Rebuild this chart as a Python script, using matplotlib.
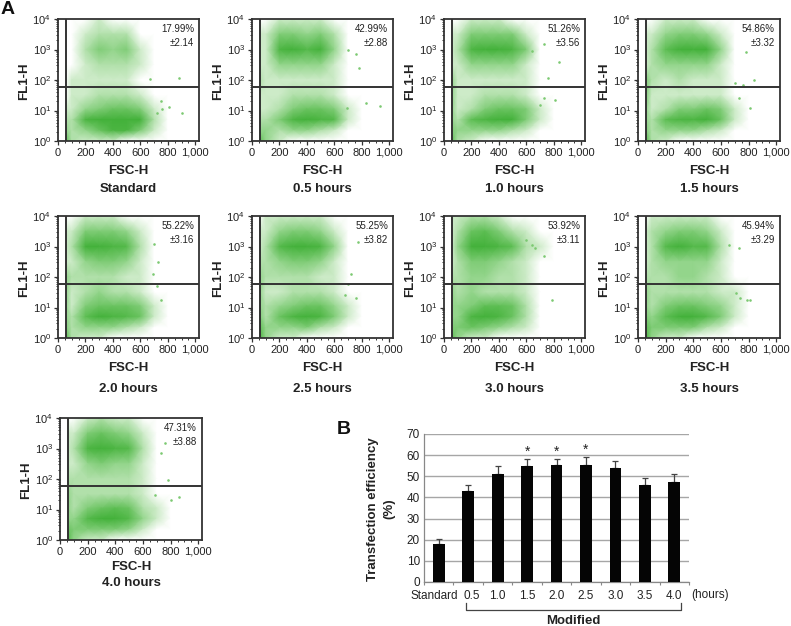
import matplotlib
matplotlib.use("Agg")
import matplotlib.pyplot as plt
import numpy as np
from matplotlib.colors import LinearSegmentedColormap
from matplotlib.ticker import MultipleLocator, FuncFormatter, LogLocator, NullFormatter
from matplotlib.transforms import ScaledTranslation

plt.rcParams['font.family'] = ['Liberation Sans', 'DejaVu Sans']
plt.rcParams['mathtext.default'] = 'regular'

W, H = 791, 626
fig = plt.figure(figsize=(W/100, H/100), dpi=100)

# ---- data ----
panel_names = ['Standard', '0.5 hours', '1.0 hours', '1.5 hours', '2.0 hours',
               '2.5 hours', '3.0 hours', '3.5 hours', '4.0 hours']
efficiency = [17.99, 42.99, 51.26, 54.86, 55.22, 55.25, 53.92, 45.94, 47.31]
errors = [2.14, 2.88, 3.56, 3.32, 3.16, 3.82, 3.11, 3.29, 3.88]
bar_labels = ['Standard', '0.5', '1.0', '1.5', '2.0', '2.5', '3.0', '3.5', '4.0']
starred = ['1.5', '2.0', '2.5']

# Event density, on a 0-9 scale.
fsc_nodes = [56, 100, 200, 300, 400, 500, 600, 700, 800, 900, 1000]
fl1_nodes = [10000, 3162, 1000, 316, 100, 32, 11, 5, 2.2, 1]

density_standard = [
    [0, 0, 0, 1, 0, 0, 0, 0, 0, 0, 0],
    [0, 0, 1, 2, 2, 2, 0, 0, 0, 0, 0],
    [0, 0, 2, 4, 3, 4, 1, 0, 0, 0, 0],
    [0, 0, 1, 2, 2, 2, 1, 0, 0, 0, 0],
    [0, 1, 1, 1, 1, 1, 0, 0, 0, 0, 0],
    [0, 1, 1, 2, 2, 2, 1, 0, 0, 0, 0],
    [1, 1, 3, 4, 5, 5, 4, 1, 0, 0, 0],
    [2, 2, 8, 9, 9, 9, 9, 2, 0, 0, 0],
    [3, 2, 3, 5, 8, 8, 4, 1, 0, 0, 0],
    [6, 2, 1, 1, 1, 0, 0, 0, 0, 0, 0]]
density_05 = [
    [0, 0, 1, 1, 1, 1, 0, 0, 0, 0, 0],
    [1, 1, 4, 4, 3, 4, 2, 0, 0, 0, 0],
    [1, 1, 8, 9, 7, 9, 3, 0, 0, 0, 0],
    [1, 1, 3, 3, 3, 3, 1, 0, 0, 0, 0],
    [2, 1, 1, 1, 1, 1, 1, 0, 0, 0, 0],
    [1, 1, 1, 2, 2, 2, 1, 0, 0, 0, 0],
    [1, 1, 2, 4, 5, 5, 4, 1, 0, 0, 0],
    [2, 2, 4, 8, 9, 8, 7, 1, 0, 0, 0],
    [3, 3, 2, 3, 3, 2, 1, 0, 0, 0, 0],
    [6, 3, 1, 0, 0, 0, 0, 0, 0, 0, 0]]
density_10 = [
    [0, 0, 1, 1, 1, 0, 0, 0, 0, 0, 0],
    [1, 1, 4, 4, 4, 4, 1, 0, 0, 0, 0],
    [1, 2, 8, 9, 9, 8, 4, 0, 0, 0, 0],
    [1, 1, 3, 3, 3, 3, 1, 0, 0, 0, 0],
    [3, 1, 1, 1, 1, 1, 1, 0, 0, 0, 0],
    [3, 1, 1, 2, 2, 2, 1, 0, 0, 0, 0],
    [3, 1, 2, 4, 5, 5, 4, 1, 0, 0, 0],
    [3, 2, 6, 8, 9, 9, 4, 1, 0, 0, 0],
    [4, 3, 3, 3, 3, 2, 1, 0, 0, 0, 0],
    [6, 2, 1, 0, 0, 0, 0, 0, 0, 0, 0]]
density_15 = [
    [0, 0, 1, 1, 1, 0, 0, 0, 0, 0, 0],
    [1, 1, 3, 4, 4, 3, 1, 0, 0, 0, 0],
    [1, 2, 6, 9, 9, 9, 3, 0, 0, 0, 0],
    [1, 2, 3, 3, 3, 3, 1, 0, 0, 0, 0],
    [4, 2, 1, 2, 1, 1, 1, 0, 0, 0, 0],
    [4, 1, 1, 1, 1, 1, 1, 0, 0, 0, 0],
    [3, 1, 2, 4, 4, 5, 4, 1, 0, 0, 0],
    [3, 2, 6, 8, 8, 9, 5, 1, 0, 0, 0],
    [4, 2, 3, 3, 3, 2, 1, 0, 0, 0, 0],
    [7, 2, 1, 0, 0, 0, 0, 0, 0, 0, 0]]
density_20 = [
    [0, 0, 1, 1, 1, 0, 0, 0, 0, 0, 0],
    [1, 1, 4, 4, 4, 3, 1, 0, 0, 0, 0],
    [1, 2, 9, 9, 8, 7, 2, 0, 0, 0, 0],
    [1, 1, 3, 4, 4, 3, 1, 0, 0, 0, 0],
    [3, 2, 2, 2, 2, 1, 1, 0, 0, 0, 0],
    [3, 1, 2, 3, 2, 2, 1, 0, 0, 0, 0],
    [3, 1, 4, 5, 5, 5, 4, 1, 0, 0, 0],
    [3, 2, 6, 9, 8, 7, 5, 1, 0, 0, 0],
    [4, 2, 3, 3, 3, 2, 1, 0, 0, 0, 0],
    [7, 2, 1, 1, 0, 0, 0, 0, 0, 0, 0]]
density_25 = [
    [0, 1, 1, 1, 1, 1, 0, 0, 0, 0, 0],
    [1, 1, 3, 4, 4, 3, 1, 0, 0, 0, 0],
    [1, 2, 7, 9, 9, 8, 3, 0, 0, 0, 0],
    [2, 2, 3, 4, 4, 3, 1, 0, 0, 0, 0],
    [3, 2, 2, 2, 2, 1, 1, 0, 0, 0, 0],
    [3, 1, 1, 2, 2, 2, 1, 0, 0, 0, 0],
    [3, 2, 3, 4, 5, 5, 3, 1, 0, 0, 0],
    [4, 2, 5, 8, 9, 8, 4, 1, 0, 0, 0],
    [6, 3, 3, 3, 4, 2, 1, 0, 0, 0, 0],
    [8, 3, 1, 1, 0, 0, 0, 0, 0, 0, 0]]
density_30 = [
    [1, 1, 2, 2, 1, 0, 0, 0, 0, 0, 0],
    [1, 2, 5, 6, 4, 2, 1, 0, 0, 0, 0],
    [1, 3, 9, 9, 8, 6, 2, 1, 0, 0, 0],
    [1, 2, 4, 4, 3, 2, 1, 0, 0, 0, 0],
    [2, 2, 3, 3, 2, 2, 1, 0, 0, 0, 0],
    [3, 2, 3, 2, 2, 2, 1, 0, 0, 0, 0],
    [3, 3, 4, 6, 6, 5, 2, 0, 0, 0, 0],
    [3, 3, 8, 9, 8, 5, 2, 0, 0, 0, 0],
    [4, 4, 5, 4, 3, 2, 1, 0, 0, 0, 0],
    [6, 3, 1, 1, 0, 0, 0, 0, 0, 0, 0]]
density_35 = [
    [0, 1, 1, 1, 1, 1, 0, 0, 0, 0, 0],
    [1, 2, 3, 4, 4, 3, 1, 0, 0, 0, 0],
    [1, 2, 7, 9, 7, 7, 2, 0, 0, 0, 0],
    [1, 2, 3, 3, 3, 3, 1, 0, 0, 0, 0],
    [2, 2, 2, 3, 3, 2, 1, 0, 0, 0, 0],
    [3, 2, 2, 2, 2, 2, 1, 1, 0, 0, 0],
    [3, 2, 4, 5, 5, 4, 3, 1, 0, 0, 0],
    [4, 3, 6, 9, 9, 7, 4, 1, 0, 0, 0],
    [6, 4, 4, 4, 4, 2, 1, 0, 0, 0, 0],
    [8, 3, 1, 1, 0, 0, 0, 0, 0, 0, 0]]
density_40 = [
    [0, 0, 1, 2, 1, 1, 0, 0, 0, 0, 0],
    [1, 1, 4, 5, 4, 3, 1, 0, 0, 0, 0],
    [1, 2, 8, 9, 8, 7, 2, 0, 0, 0, 0],
    [1, 1, 3, 4, 3, 3, 1, 0, 0, 0, 0],
    [2, 2, 2, 2, 2, 2, 1, 0, 0, 0, 0],
    [3, 2, 2, 2, 2, 2, 1, 0, 0, 0, 0],
    [3, 2, 4, 5, 6, 5, 2, 1, 0, 0, 0],
    [3, 3, 7, 9, 9, 7, 3, 1, 0, 0, 0],
    [5, 4, 4, 4, 4, 3, 1, 0, 0, 0, 0],
    [7, 3, 1, 1, 0, 0, 0, 0, 0, 0, 0]]
densities = [density_standard, density_05, density_10, density_15, density_20,
             density_25, density_30, density_35, density_40]

# Isolated events (FSC-H, FL1-H).
stray_fsc = [
    [670, 880, 810, 750, 900, 720, 760],
    [700, 780, 830, 930, 690, 760],
    [730, 840, 760, 730, 810, 700, 640],
    [700, 760, 810, 780, 730, 840],
    [700, 730, 750, 690, 720],
    [770, 720, 700, 760, 680],
    [640, 660, 730, 790, 600],
    [660, 710, 740, 790, 810, 730],
    [760, 690, 730, 800, 860, 780],
]
stray_fl1 = [
    [110, 120, 13, 20, 8, 8, 11],
    [1000, 250, 18, 14, 12, 700],
    [1500, 400, 120, 25, 22, 15, 900],
    [80, 70, 12, 800, 25, 100],
    [1200, 300, 18, 130, 50],
    [1400, 130, 60, 20, 25],
    [1100, 900, 500, 18, 1600],
    [1100, 30, 20, 18, 18, 900],
    [1500, 30, 700, 20, 25, 90],
]
percent_labels = ['17.99%\n±2.14', '42.99%\n±2.88', '51.26%\n±3.56', '54.86%\n±3.32',
                  '55.22%\n±3.16', '55.25%\n±3.82', '53.92%\n±3.11', '45.94%\n±3.29',
                  '47.31%\n±3.88']

# ---- layout, in reference pixels ----
boxes = [(58, 199, 19, 141), (252, 393, 19, 141), (444, 585, 19, 141), (638, 780, 19, 141),
         (58, 199, 216, 338), (252, 393, 216, 338), (444, 585, 216, 338), (638, 780, 216, 338),
         (60, 202, 418, 540)]
xlabel_y = [171]*4 + [368]*4 + [567]
name_y = [189]*4 + [389]*4 + [583]

DARK = '#333333'
TXT = '#222222'
green = LinearSegmentedColormap.from_list(
    'flow', [(0, '#ffffff'), (0.11, '#cdebc8'), (0.33, '#94d58c'), (0.6, '#62c058'), (1, '#43b13a')])


def add_axes(l, r, t, b):
    return fig.add_axes([l/W, 1-b/H, (r-l)/W, (b-t)/H])


def ftext(x, y, s, **kw):
    kw.setdefault('ha', 'center')
    kw.setdefault('va', 'center')
    kw.setdefault('color', TXT)
    fig.text(x/W, 1-y/H, s, **kw)


X, Y = np.meshgrid(fsc_nodes, fl1_nodes)
for i, (l, r, t, b) in enumerate(boxes):
    ax = add_axes(l, r, t, b)
    ax.set_yscale('log')
    ax.pcolormesh(X, Y, np.array(densities[i], float), shading='gouraud',
                  cmap=green, vmin=0, vmax=9, rasterized=True, zorder=1)
    ax.scatter(stray_fsc[i], stray_fl1[i], s=3.5, color='#7cc972', linewidths=0, zorder=2)
    ax.axvline(56, color=DARK, lw=1.4, zorder=3)
    ax.axhline(60, color=DARK, lw=1.4, zorder=3)
    ax.set_xlim(0, 1027)
    ax.set_ylim(1, 10000)
    ax.xaxis.set_major_locator(MultipleLocator(200))
    ax.xaxis.set_minor_locator(MultipleLocator(50))
    ax.xaxis.set_major_formatter(FuncFormatter(lambda v, p: f'{int(v):,}'))
    ax.yaxis.set_major_locator(LogLocator(base=10, numticks=6))
    ax.yaxis.set_minor_locator(LogLocator(base=10, subs=np.arange(2, 10), numticks=6))
    ax.yaxis.set_minor_formatter(NullFormatter())
    ax.tick_params(axis='both', which='major', length=3, width=0.9, color=DARK,
                   labelsize=8, labelcolor=TXT, pad=2)
    ax.tick_params(axis='both', which='minor', length=1.6, width=0.7, color=DARK)
    for s in ax.spines.values():
        s.set_color(DARK)
        s.set_linewidth(1.3)
    ax.text(0.965, 0.955, percent_labels[i], transform=ax.transAxes, ha='right', va='top',
            fontsize=7, color=TXT, linespacing=1.4, zorder=4)
    ftext((l+r)/2, xlabel_y[i], 'FSC-H', fontsize=9.5, fontweight='bold')
    ftext((l+r)/2, name_y[i], panel_names[i], fontsize=9.5, fontweight='bold')
    ftext(l-34, (t+b)/2+1, 'FL1-H', fontsize=9.5, fontweight='bold', rotation=90)

ftext(8, 9, 'A', fontsize=14, fontweight='bold', color='#111111')
ftext(344, 429, 'B', fontsize=14, fontweight='bold', color='#111111')

# ---- bar chart ----
bx = add_axes(424, 689, 434, 582)
pos = np.arange(len(bar_labels))
bx.yaxis.grid(True, color='#a6a6a6', lw=1.0, zorder=0)
bx.set_axisbelow(True)
bx.bar(pos, efficiency, width=0.4, color='#050505', zorder=3)
bx.errorbar(pos, efficiency, yerr=[np.zeros(len(errors)), errors], fmt='none',
            ecolor='#444444', elinewidth=0.9, capsize=2, capthick=0.9, zorder=2)
for name in starred:
    k = bar_labels.index(name)
    bx.annotate('*', (k, efficiency[k]+errors[k]), xytext=(0, 0), textcoords='offset points',
                ha='center', va='bottom', fontsize=10, color=TXT)
bx.set_xlim(-0.5, 8.5)
bx.set_ylim(0, 70)
bx.set_yticks(range(0, 71, 10))
bx.set_xticks(pos)
bx.set_xticklabels(bar_labels)
bx.tick_params(axis='x', length=0, pad=6, labelsize=8.5, labelcolor=TXT)
bx.xaxis.set_minor_locator(MultipleLocator(1, offset=0.5))
bx.tick_params(axis='x', which='minor', length=2.5, width=0.8, color='#888888')
bx.tick_params(axis='y', length=0, pad=3, labelsize=8.5, labelcolor=TXT)
# the reference sets "Standard" and "0.5" slightly apart from their bars
ticklabels = bx.get_xticklabels()
ticklabels[0].set_transform(ticklabels[0].get_transform() + ScaledTranslation(-4/100, 0, fig.dpi_scale_trans))
ticklabels[1].set_transform(ticklabels[1].get_transform() + ScaledTranslation(4/100, 0, fig.dpi_scale_trans))
for s in ['top', 'right']:
    bx.spines[s].set_visible(False)
for s in ['left', 'bottom']:
    bx.spines[s].set_color('#888888')
    bx.spines[s].set_linewidth(0.9)

ftext(710, 595, '(hours)', fontsize=8.5)
ftext(373, 509, 'Transfection efficiency', fontsize=9.5, fontweight='bold', rotation=90)
ftext(389, 509, '(%)', fontsize=9.5, fontweight='bold', rotation=90)
ftext(573, 621, 'Modified', fontsize=9.5, fontweight='bold')

fig.add_artist(plt.Line2D([466/W, 466/W, 681/W, 681/W],
                          [1-603/H, 1-610/H, 1-610/H, 1-603/H],
                          color='#444444', lw=0.9))

fig.savefig('out.png', dpi=100)
